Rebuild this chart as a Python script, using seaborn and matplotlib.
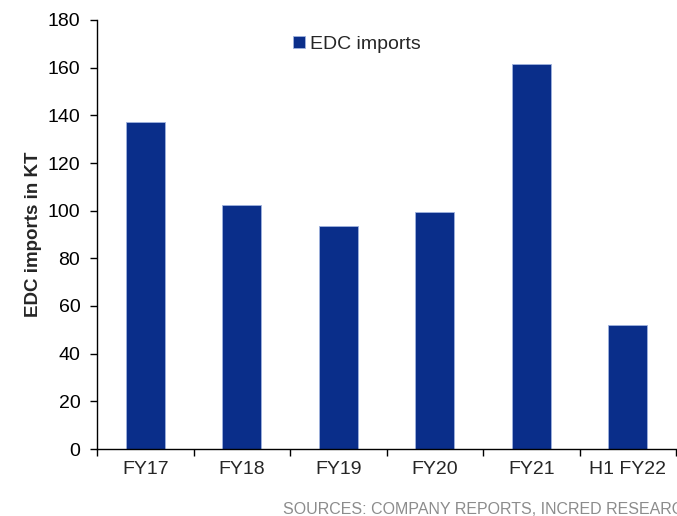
import matplotlib
matplotlib.use("Agg")
import matplotlib.pyplot as plt
import seaborn as sns
import pandas as pd
from matplotlib.ticker import FixedLocator

periods = ["FY17", "FY18", "FY19", "FY20", "FY21", "H1 FY22"]
edc_imports = [137, 102.5, 93.7, 99.3, 161.6, 52]
y_ticks = [0, 20, 40, 60, 80, 100, 120, 140, 160, 180]

sns.set_theme(style="ticks")
plt.rcParams["font.family"] = ["Liberation Sans", "DejaVu Sans"]

df = pd.DataFrame({"period": periods, "kt": edc_imports})

fig = plt.figure(figsize=(6.77, 5.16), dpi=100)
ax = fig.add_axes([97 / 677, 67 / 516, 579 / 677, 429 / 516])

sns.barplot(data=df, x="period", y="kt", color="#0A2E8A", saturation=1,
            width=0.40, edgecolor="#9fb2de", linewidth=0.6,
            label="EDC imports", ax=ax)

ax.set_ylim(0, 180)
ax.set_xlim(-0.5, len(periods) - 0.5)
ax.set_yticks(y_ticks)
ax.tick_params(axis="y", labelsize=14, length=5, width=1, direction="out",
               colors="black", pad=7)
ax.tick_params(axis="x", which="major", labelsize=14, length=0, pad=9)
ax.xaxis.set_minor_locator(FixedLocator([i - 0.5 for i in range(len(periods) + 1)]))
ax.tick_params(axis="x", which="minor", length=5, width=1, direction="out", color="black")

for side in ("top", "right"):
    ax.spines[side].set_visible(False)
for side in ("left", "bottom"):
    ax.spines[side].set_color("black")
    ax.spines[side].set_linewidth(1)

ax.set_xlabel("")
ax.set_ylabel("EDC imports in KT", fontsize=13.5, fontweight="bold", labelpad=4)

ax.legend(loc="center", bbox_to_anchor=(0.449, 0.944), frameon=False,
          fontsize=14, handlelength=0.6, handleheight=0.6, handletextpad=0.3)

fig.text(283 / 677, 2 / 516, "SOURCES: COMPANY REPORTS, INCRED RESEARCH",
         fontsize=11.5, color="#8c8c8c", ha="left", va="baseline")

fig.savefig("out.png", dpi=100)
